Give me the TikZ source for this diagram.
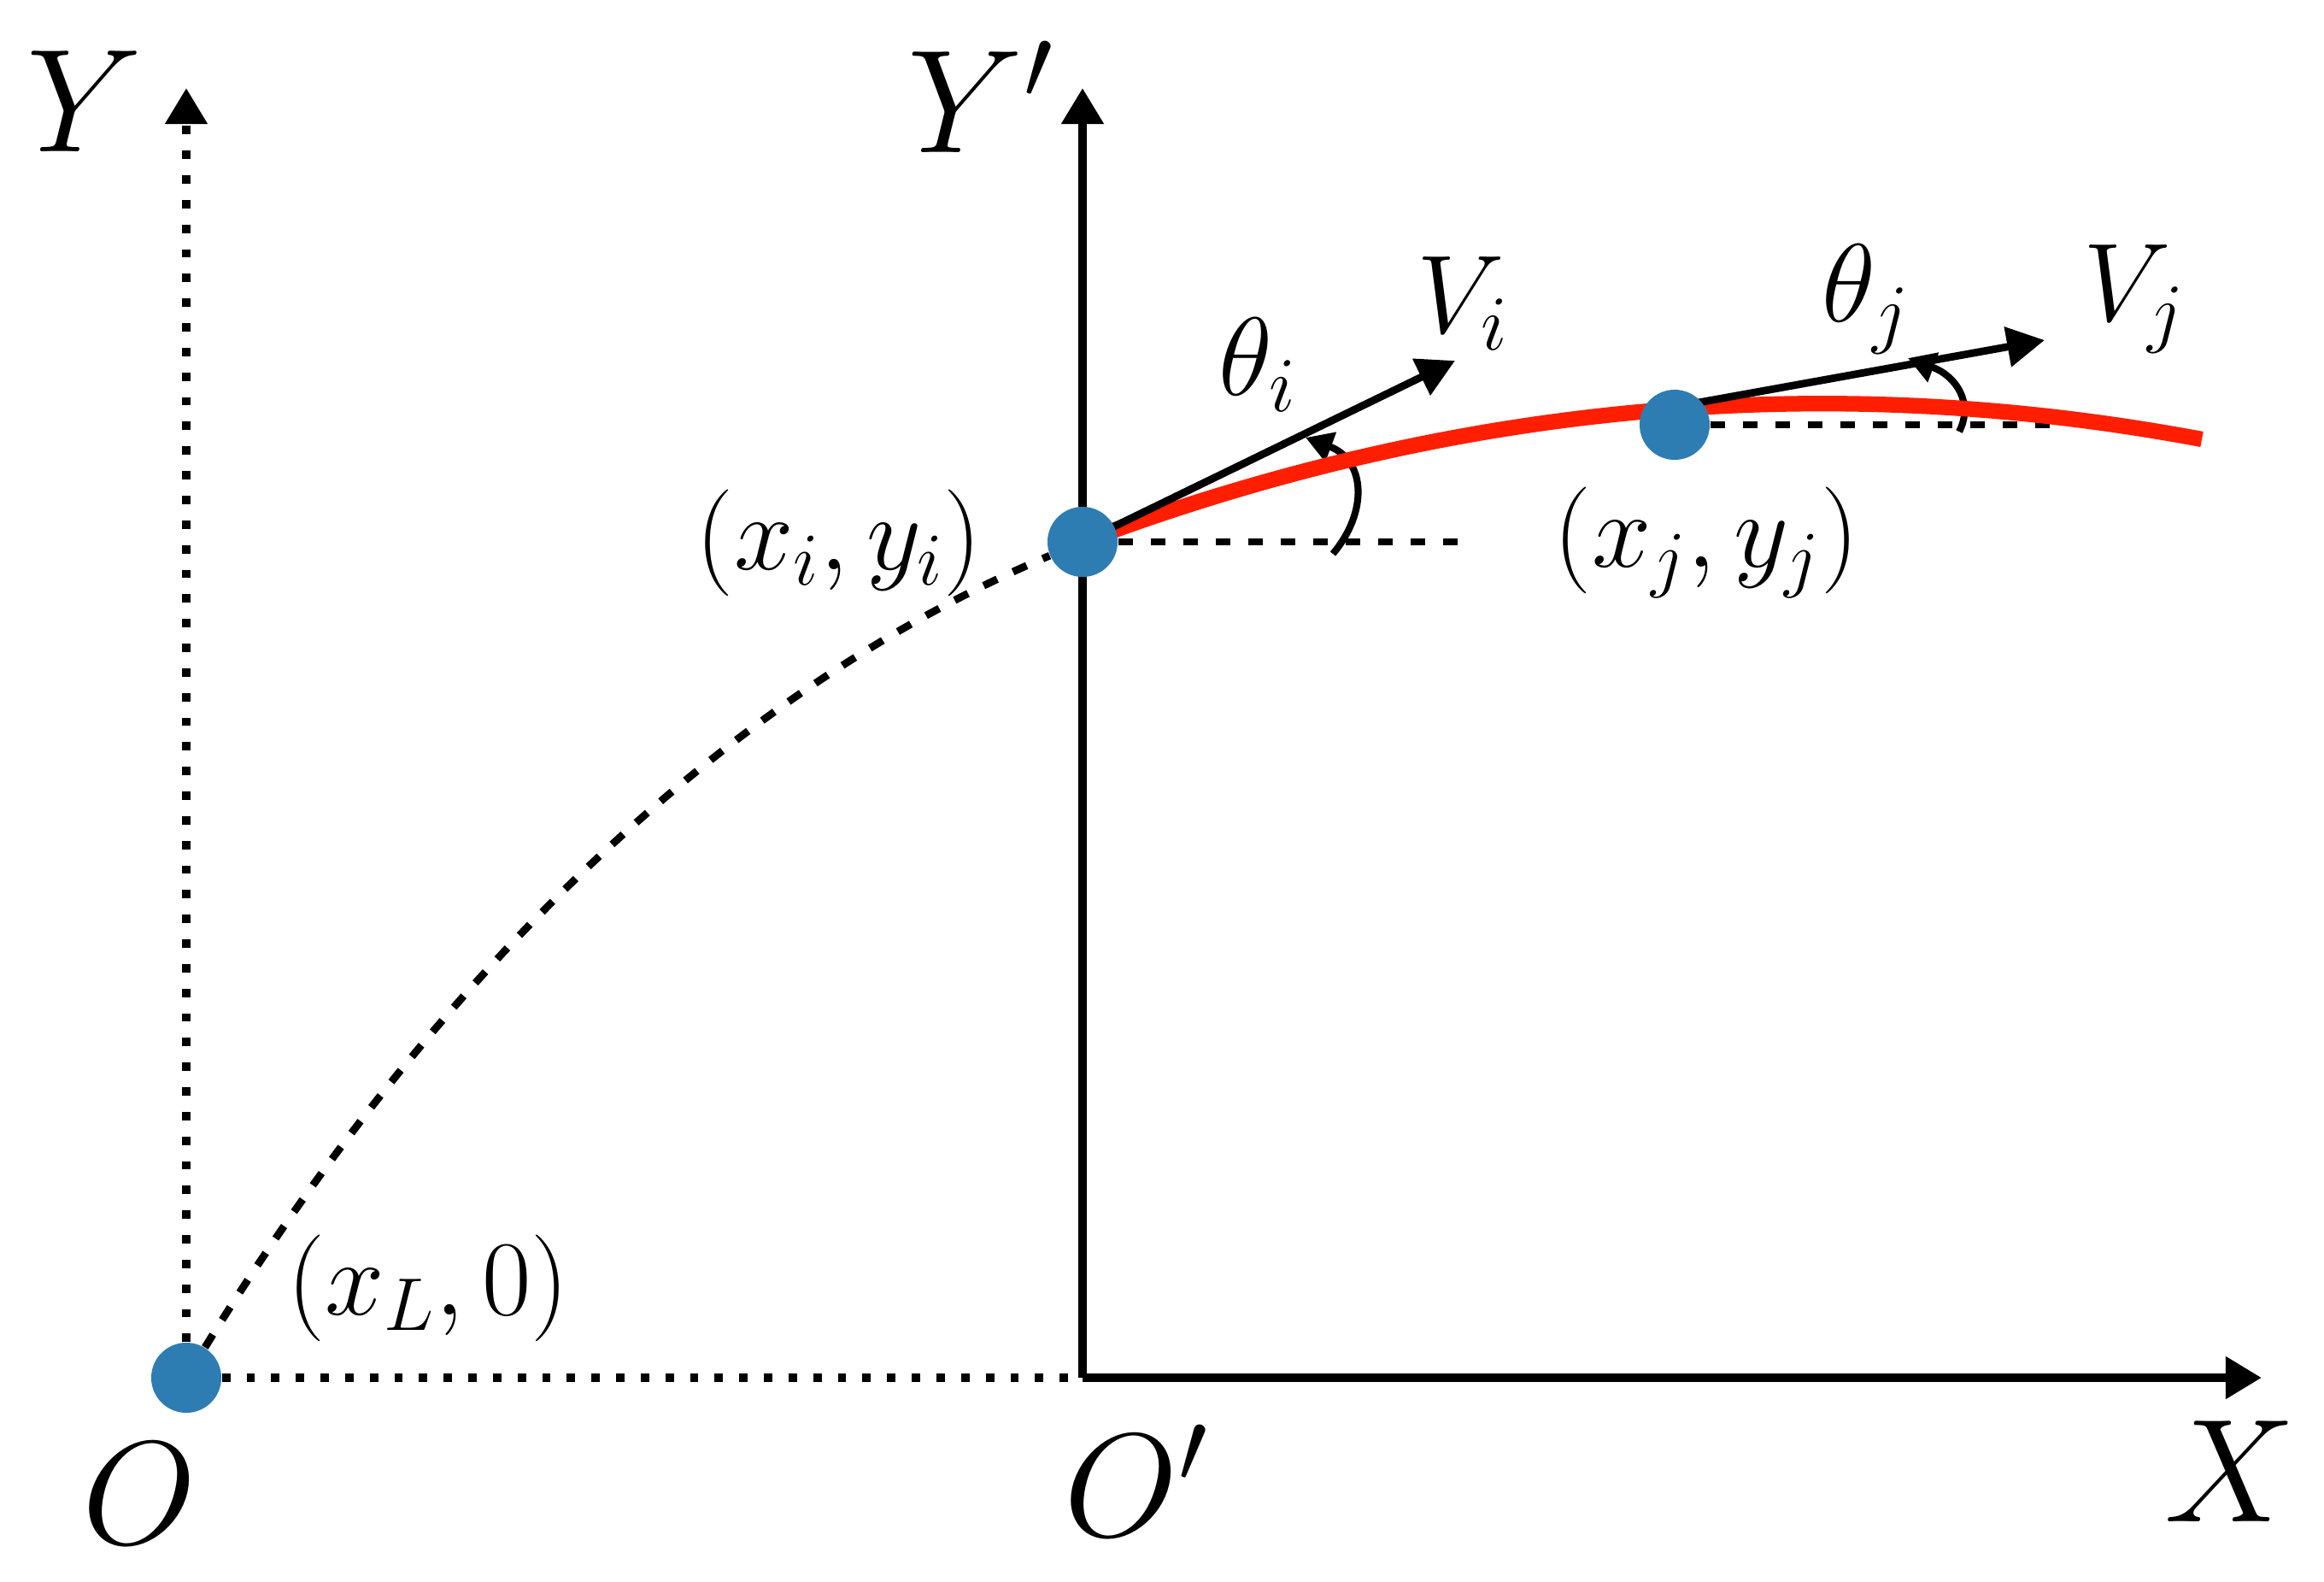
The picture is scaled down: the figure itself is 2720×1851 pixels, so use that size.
\RequirePackage{fix-cm}
\documentclass[tikz,border=0pt]{standalone}
\usetikzlibrary{arrows.meta}
\pgfdeclarelayer{background}
\pgfsetlayers{background,main}
\definecolor{dotblue}{RGB}{46,125,178}
\definecolor{trajred}{RGB}{255,30,0}
\begin{document}
\begin{tikzpicture}[x=0.01cm,y=-0.01cm,
  ptdot/.style={circle,fill=dotblue,draw=none,minimum size=0.82cm,inner sep=0pt},
  axisline/.style={line width=2.9pt,-{Triangle[length=12pt,width=13.5pt]}},
  dotline/.style={line width=2.8pt,dash pattern=on 2.8pt off 5.4pt},
  dashline/.style={line width=2.5pt,dash pattern=on 5pt off 5.8pt},
  vecline/.style={line width=2.5pt,-{Triangle[length=12.5pt,width=13pt]}},
  angarc/.style={line width=2.3pt,-{Triangle[length=9pt,width=10pt]}},
  redline/.style={trajred,line width=5.2pt},
  lblbig/.style={font=\fontsize{49}{55}\selectfont,inner sep=0pt},
  lblmid/.style={font=\fontsize{37}{42}\selectfont,inner sep=0pt},
  lblsmall/.style={font=\fontsize{35.5}{40}\selectfont,inner sep=0pt},
]
\useasboundingbox (0,0) rectangle (2720,1851);

% points
\node[ptdot] (O) at (218,1612) {};
\node[ptdot] (i) at (1267,634) {};
\node[ptdot] (j) at (1960,497) {};
\coordinate (Op) at (1267,1612);
\coordinate (Ytop) at (218,103);
\coordinate (Yptop) at (1267,103);
\coordinate (Xend) at (2647,1612);
\coordinate (ih) at (1715,634);
\coordinate (jh) at (2404,497);
\coordinate (vi) at (1703,422);
\coordinate (js) at (1960,476);
\coordinate (vj) at (2393,398);
\coordinate (rend) at (2577,514);
\coordinate (ai0) at (1560,648);
\coordinate (ai1) at (1528,512);
\coordinate (aj0) at (2293,505);
\coordinate (aj1) at (2233,419);

\begin{pgfonlayer}{background}
  % axes
  \draw[dotline,-{Triangle[length=12pt,width=13.5pt]}] (O) -- (Ytop);
  \draw[dotline] (O) -- (Op);
  \draw[axisline] (Op) -- (Yptop);
  \draw[axisline] (Op) -- (Xend);
  % trajectory before i
  \draw[dashline] (O) .. controls (515,1130) and (860,805) .. (i);
  % horizontal references
  \draw[dashline] (i) -- (ih);
  \draw[dashline] (j) -- (jh);
  % angle arcs
  \draw[angarc] (ai0) .. controls (1602,598) and (1598,538) .. (ai1);
  \draw[angarc] (aj0) .. controls (2310,472) and (2290,440) .. (aj1);
  % red trajectory
  \draw[redline] (i.center) .. controls (1703,470) and (2140,432) .. (rend);
  % velocity vectors
  \draw[vecline] (i.center) -- (vi);
  \draw[vecline] (js) -- (vj);
\end{pgfonlayer}

% labels
\node[lblbig] (lY) at (99,119) {$Y$};
\node[lblbig,anchor=base west] (lYp) at (1062,178) {$Y'$};
\node[lblbig] (lO) at (163,1748) {$O$};
\node[lblbig,anchor=base west] (lOp) at (1245,1797) {$O'$};
\node[lblbig] (lX) at (2610,1722) {$X$};
\node[lblsmall] (lxL) at (501,1507) {$(x_L,0)$};
\node[lblsmall] (lxi) at (982,635) {$(x_i,y_i)$};
\node[lblsmall] (lxj) at (1997,635) {$(x_j,y_j)$};
\node[lblmid] (lthi) at (1472,427) {$\theta_i$};
\node[lblmid] (lVi) at (1712,355) {$V_i$};
\node[lblmid] (lthj) at (2184,350) {$\theta_j$};
\node[lblmid] (lVj) at (2498,350) {$V_j$};
\end{tikzpicture}
\end{document}
